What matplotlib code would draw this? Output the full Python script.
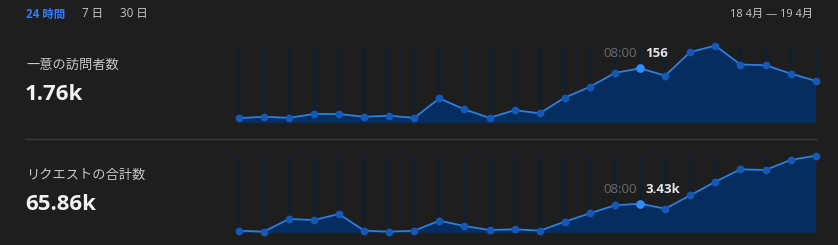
import matplotlib.pyplot as plt

# datos (24 horas, una muestra por hora)
hours = ['%02d:00' % ((h + 16) % 24) for h in range(24)]
visitors = [13, 17, 14, 25, 25, 17, 20, 14, 70, 38, 14, 36,
            27, 72, 103, 143, 156, 135, 203, 221, 167, 165, 141, 120]
requests_ = [240, 120, 1620, 1500, 2210, 240, 120, 240, 1420, 790, 320, 400,
             240, 1300, 2300, 3240, 3430, 2840, 4420, 6030, 7500, 7420, 8600, 9110]
visitors_total = '1.76k'
requests_total = '65.86k'
highlight = 16
ranges = ['24 時間', '7 日', '30 日']
date_range = '18 4月 — 19 4月'

bg = '#1e1e1e'
fam = ['Open Sans', 'Noto Sans CJK JP', 'DejaVu Sans']

W, H = 838, 245
fig = plt.figure(figsize=(W / 100, H / 100), dpi=100, facecolor=bg)


def px(x, y):
    return x / W, 1 - y / H


def spark(bottom_px, vals, label_val):
    ax = fig.add_axes([238.7 / W, (H - bottom_px) / H, 577 / W, 77 / H])
    ax.set_facecolor(bg)
    x = list(range(len(vals)))
    top = max(vals)
    ax.set_xlim(0, len(vals) - 1)
    ax.set_ylim(0, top)
    ax.vlines(x, vals, top, color='#0b1f3d', lw=1.3, zorder=1, clip_on=False)
    ax.fill_between(x, vals, 0, color='#062d5f', lw=0, zorder=2)
    ax.plot(x, vals, color='#2a7fe0', lw=1.3, zorder=3, clip_on=False)
    ax.plot(x, vals, 'o', color='#1558b5', ms=4.6, zorder=4, clip_on=False)
    ax.plot([highlight], [vals[highlight]], 'o', color='#2f8cff', ms=5.2,
            zorder=5, clip_on=False)
    ax.axis('off')
    # etiqueta sobre el punto resaltado
    ax.annotate(hours[highlight], (highlight, vals[highlight]), xytext=(-2, 10.5),
                textcoords='offset points', ha='right', va='center',
                color='#6a6a6a', fontsize=9.5, family=fam)
    ax.annotate(label_val, (highlight, vals[highlight]), xytext=(4, 10.5),
                textcoords='offset points', ha='left', va='center',
                color='#e8e8e8', fontsize=9.5, fontweight='bold', family=fam)
    return ax


spark(122.7, visitors, '156')
spark(232.7, requests_, '3.43k')

# barra superior
xs = [26, 82, 120]
for i, (r, xp) in enumerate(zip(ranges, xs)):
    fig.text(*px(xp, 14), r, ha='left', va='center', fontsize=8.3,
             color='#2f7df6' if i == 0 else '#c8c8c8',
             fontweight='bold' if i == 0 else 'normal', family=fam)
fig.text(*px(813, 14), date_range, ha='right', va='center', fontsize=8,
         color='#c8c8c8', family=fam)

# etiquetas de la izquierda
fig.text(*px(26, 65), '一意の訪問者数', ha='left', va='center', fontsize=9.5,
         color='#c8c8c8', family=fam)
fig.text(*px(25, 94), visitors_total, ha='left', va='center', fontsize=16,
         color='#f2f2f2', fontweight='bold', family=fam)
fig.text(*px(26, 175), 'リクエストの合計数', ha='left', va='center', fontsize=9.5,
         color='#c8c8c8', family=fam)
fig.text(*px(25, 204), requests_total, ha='left', va='center', fontsize=16,
         color='#f2f2f2', fontweight='bold', family=fam)

# separador
fig.add_artist(plt.Line2D([25 / W, 816 / W], [1 - 139.3 / H] * 2,
                          color='#3a3a3a', lw=1))

fig.savefig('out.png', dpi=100, facecolor=bg)
